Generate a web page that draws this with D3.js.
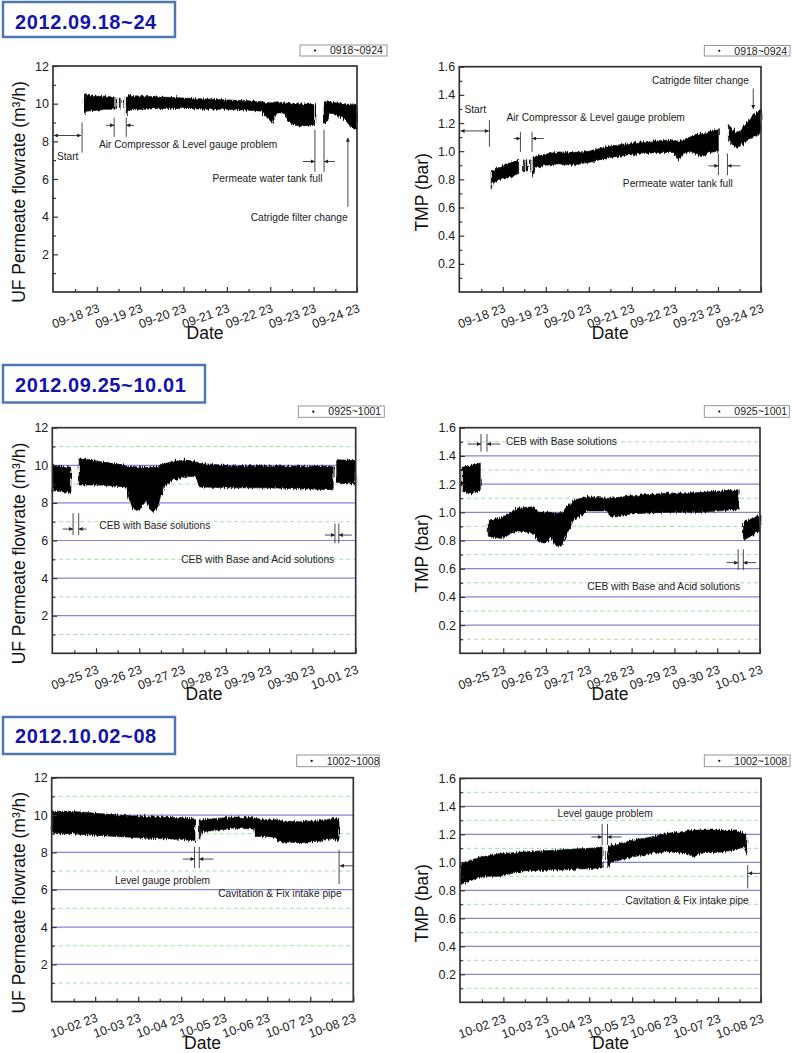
<!DOCTYPE html>
<html><head><meta charset="utf-8">
<script src="https://cdn.jsdelivr.net/npm/d3@7"></script>
<style>body{margin:0;background:#fff}svg{display:block}text{font-family:"Liberation Sans",Arial,sans-serif}</style>
</head><body>
<svg id="c" width="792" height="1053"></svg>
<script>
// ---------------- DATA ----------------
const periodTitles = ["2012.09.18~24", "2012.09.25~10.01", "2012.10.02~08"];
const legendLabels = ["0918~0924", "0925~1001", "1002~1008"];
const dateTicks1 = ["09-18 23","09-19 23","09-20 23","09-21 23","09-22 23","09-23 23","09-24 23"];
const dateTicks2 = ["09-25 23","09-26 23","09-27 23","09-28 23","09-29 23","09-30 23","10-01 23"];
const dateTicks3 = ["10-02 23","10-03 23","10-04 23","10-05 23","10-06 23","10-07 23","10-08 23"];
const flowMajor = [2,4,6,8,10,12];
const flowMinor = [1,3,5,7,9,11];
const tmpMajor = [0.2,0.4,0.6,0.8,1.0,1.2,1.4,1.6];
const tmpMinor = [0.1,0.3,0.5,0.7,0.9,1.1,1.3,1.5];

// Each series = list of continuous segments; point = [days after first "23" tick, low, high]
const flow0918 = [
  [[-0.29,9.4,10.6],[-0.25,9.6,10.45],[0.0,9.65,10.4],[0.2,9.7,10.4],[0.40,9.7,10.35]],
  [[0.44,9.75,10.3],[0.46,9.75,10.3]],
  [[0.52,9.75,10.3],[0.54,9.75,10.3]],
  [[0.60,9.75,10.3],[0.62,9.75,10.3]],
  [[0.68,9.3,10.4],[0.72,9.65,10.45],[1.0,9.7,10.4],[1.5,9.75,10.35],[2.0,9.75,10.3],[2.5,9.7,10.25],[3.0,9.7,10.2],[3.5,9.65,10.15],[3.8,9.6,10.1],[3.95,9.2,10.05],[4.05,9.0,10.05],[4.15,9.5,10.1],[4.3,9.5,10.05],[4.5,8.9,10.0],[4.7,8.8,10.0],[5.03,8.9,9.95]],
  [[5.24,9.0,10.15],[5.28,8.9,10.1],[5.35,9.5,10.1],[5.5,9.4,10.05],[5.7,9.2,10.0],[5.85,8.8,9.95],[6.0,8.6,9.9]]
];
const tmp0918 = [
  [[-0.27,0.73,0.855],[-0.24,0.78,0.86],[0.0,0.80,0.90],[0.2,0.82,0.92],[0.37,0.84,0.935]],
  [[0.48,0.86,0.94],[0.50,0.86,0.94]],
  [[0.54,0.86,0.94],[0.56,0.86,0.94]],
  [[0.62,0.86,0.94],[0.64,0.86,0.94]],
  [[0.68,0.82,0.96],[0.72,0.88,0.96],[1.0,0.90,0.98],[1.3,0.91,0.995],[1.6,0.90,0.99],[2.0,0.92,1.0],[2.4,0.95,1.03],[2.8,0.97,1.05],[3.2,0.98,1.065],[3.6,0.99,1.075],[3.95,0.99,1.08],[4.08,0.935,1.07],[4.18,0.98,1.08],[4.35,1.0,1.1],[4.5,0.98,1.12],[4.6,0.96,1.12],[4.8,0.99,1.14],[5.01,1.0,1.16]],
  [[5.24,1.10,1.19],[5.3,1.05,1.17],[5.45,1.02,1.12],[5.6,1.06,1.18],[5.8,1.10,1.25],[6.0,1.13,1.30]]
];
const flow0925 = [
  [[-1.0,8.65,10.0],[-0.8,8.6,9.95],[-0.58,8.55,9.9]],
  [[-0.39,8.95,10.4],[0.08,8.95,10.2],[0.69,8.85,10.0],[0.77,8.2,9.95],[0.85,7.7,9.95],[1.0,7.6,9.9],[1.16,8.15,9.9],[1.23,7.8,9.9],[1.31,7.5,9.9],[1.43,7.8,9.95],[1.54,8.8,10.05],[1.77,9.2,10.2],[2.08,9.4,10.28],[2.32,9.4,10.2],[2.39,8.85,10.1],[3.16,8.8,9.97],[3.94,8.8,9.97],[4.71,8.75,9.95],[5.48,8.7,9.95]],
  [[5.56,9.05,10.3],[6.0,9.0,10.25]]
];
const tmp0925 = [
  [[-0.96,1.15,1.32],[-0.75,1.13,1.33],[-0.535,1.16,1.35]],
  [[-0.35,0.83,0.945],[-0.05,0.815,0.96],[0.34,0.87,1.03],[0.72,0.85,1.04],[0.83,0.79,1.0],[0.99,0.78,1.0],[1.11,0.83,1.0],[1.23,0.76,0.99],[1.39,0.77,1.0],[1.48,0.85,1.04],[1.65,0.945,1.087],[1.97,1.01,1.11],[2.43,1.01,1.10],[2.51,0.97,1.10],[3.05,0.99,1.12],[3.83,1.0,1.135],[4.6,1.0,1.14],[5.49,1.02,1.16]],
  [[5.61,0.80,0.93],[6.0,0.87,0.98]]
];
const flow1002 = [
  [[-1.0,9.0,10.2],[-0.6,9.0,10.2],[-0.25,8.95,10.15],[0.5,8.85,10.0],[1.27,8.75,9.91],[2.0,8.7,9.85],[2.32,8.6,9.8]],
  [[2.42,8.6,9.75],[2.47,9.1,9.75],[2.83,9.2,9.82],[3.21,9.3,9.9],[3.68,9.25,9.85],[3.72,8.85,9.82],[4.0,8.85,9.75],[4.2,8.8,9.75],[4.26,8.57,9.7],[4.76,8.52,9.64],[5.2,8.6,9.7],[5.53,8.75,9.82],[5.67,8.6,9.8]]
];
const tmp1002 = [
  [[-1.0,0.84,0.99],[-0.5,0.90,1.04],[-0.1,0.90,1.06],[0.5,0.94,1.076],[1.3,0.945,1.088],[2.0,0.955,1.10],[2.3,0.96,1.11]],
  [[2.43,0.96,1.10],[2.5,1.0,1.12],[3.04,1.04,1.16],[3.43,1.064,1.18],[3.82,1.076,1.207],[4.2,1.064,1.22],[4.45,1.04,1.23],[4.6,1.07,1.23],[5.0,1.07,1.23],[5.38,1.088,1.23],[5.6,1.11,1.21],[5.67,1.05,1.19]]
];

// ---------------- LAYOUT ----------------
const FLOW_LABEL = "UF Permeate flowrate (m\u00B3/h)";
const TMP_LABEL = "TMP (bar)";
const titleBoxes = [
  {x:3, y:2, w:172, h:35, tx:15, ty:28.5},
  {x:3, y:365, w:202, h:37.5, tx:15, ty:392},
  {x:3, y:717, w:172, h:37, tx:15, ty:743}
];
const panels = [
  {L:53, R:357, T:66, B:292, kind:"flow", data:flow0918, ticks:dateTicks1, grid:false, leg:{x:300,y:45,w:87,h:11,label:legendLabels[0]},
   texts:[["Start",-0.92,7.02],["Air Compressor & Level gauge problem",0.05,7.66],["Permeate water tank full",2.67,5.85],["Catrigde filter change",3.55,3.78]],
   vlines:[[-0.34,9.0,7.4],[0.40,9.26,8.24],[0.68,9.26,8.24],[5.03,8.62,6.38],[5.24,8.62,6.38]],
   arrows:[[-0.99,8.31,-0.36,8.31,1],[0.215,8.85,0.40,8.85],[0.86,8.85,0.68,8.85],[4.75,6.93,5.03,6.93],[5.49,6.93,5.24,6.93],[5.79,4.52,5.79,8.19]]},
  {L:459.3, R:761, T:66.7, B:292, kind:"tmp", data:tmp0918, ticks:dateTicks1, grid:false, leg:{x:704.3,y:45.5,w:85.7,h:10.5,label:legendLabels[0]},
   texts:[["Start",-0.89,1.27],["Air Compressor & Level gauge problem",0.086,1.213],["Catrigde filter change",3.47,1.475],["Permeate water tank full",2.79,0.745]],
   vlines:[[-0.31,1.22,1.03],[0.41,1.137,0.995],[0.68,1.137,0.995],[5.01,0.984,0.83],[5.22,0.984,0.83]],
   arrows:[[-0.98,1.144,-0.325,1.144,1],[0.255,1.09,0.41,1.09],[0.95,1.09,0.68,1.09],[5.82,1.445,5.82,1.30],[4.78,0.896,5.01,0.896],[5.52,0.896,5.22,0.896]]},
  {L:52.3, R:355.7, T:427.7, B:653.3, kind:"flow", data:flow0925, ticks:dateTicks2, grid:true, leg:{x:298.3,y:406,w:86,h:11.3,label:legendLabels[1]},
   texts:[["CEB with Base solutions",0.076,6.61],["CEB with Base and Acid solutions",1.97,4.80]],
   vlines:[[-0.53,7.45,6.29],[-0.40,7.45,6.29],[5.52,6.91,5.85],[5.61,6.91,5.85]],
   arrows:[[-0.77,6.61,-0.53,6.61],[-0.22,6.61,-0.40,6.61],[5.29,6.29,5.52,6.29],[5.91,6.29,5.61,6.29]]},
  {L:460, R:760, T:427.7, B:653.3, kind:"tmp", data:tmp0925, ticks:dateTicks2, grid:true, leg:{x:704.3,y:405.7,w:85,h:11.6,label:legendLabels[1]},
   texts:[["CEB with Base solutions",0.063,1.48],["CEB with Base and Acid solutions",1.965,0.449]],
   vlines:[[-0.52,1.555,1.43],[-0.38,1.555,1.43],[5.49,0.738,0.591],[5.61,0.738,0.591]],
   arrows:[[-0.83,1.484,-0.52,1.484],[-0.07,1.484,-0.38,1.484],[5.22,0.643,5.49,0.643],[5.91,0.643,5.61,0.643]]},
  {L:51.7, R:353.3, T:777.7, B:1001.7, kind:"flow", data:flow1002, ticks:dateTicks3, grid:true, leg:{x:296.7,y:755,w:82.6,h:11.7,label:legendLabels[2]},
   texts:[["Level gauge problem",0.46,6.28],["Cavitation & Fix intake pipe",2.86,5.61]],
   vlines:[[2.31,8.30,7.15],[2.42,8.30,7.15],[5.67,8.13,6.30]],
   arrows:[[2.04,7.64,2.31,7.64],[2.75,7.64,2.42,7.64],[5.99,7.28,5.69,7.28]]},
  {L:460, R:761, T:778.3, B:1002.3, kind:"tmp", data:tmp1002, ticks:dateTicks3, grid:true, leg:{x:704.3,y:755,w:85.7,h:11.7,label:legendLabels[2]},
   texts:[["Level gauge problem",1.26,1.324],["Cavitation & Fix intake pipe",2.84,0.699]],
   vlines:[[2.30,1.274,1.124],[2.425,1.274,1.124],[5.69,0.98,0.814]],
   arrows:[[2.05,1.181,2.30,1.181],[2.75,1.181,2.425,1.181],[5.98,0.921,5.70,0.921]]}
];

// ---------------- DRAW ----------------
const svg = d3.select("#c");
const defs = svg.append("defs");
defs.append("marker").attr("id","ah").attr("viewBox","0 0 10 10").attr("refX",10).attr("refY",5)
  .attr("markerWidth",5).attr("markerHeight",4).attr("markerUnits","userSpaceOnUse").attr("orient","auto-start-reverse")
  .append("path").attr("d","M0,0L10,5L0,10Z").attr("fill","#222");
// ragged-edge rendering style for the dense scatter bands
const flt = defs.append("filter").attr("id","rough").attr("x","-2%").attr("y","-20%").attr("width","104%").attr("height","140%");
flt.append("feTurbulence").attr("type","fractalNoise").attr("baseFrequency","0.9 0.08").attr("numOctaves",2).attr("seed",3).attr("result","n");
flt.append("feDisplacementMap").attr("in","SourceGraphic").attr("in2","n").attr("scale",5).attr("xChannelSelector","R").attr("yChannelSelector","G");

// title boxes
titleBoxes.forEach((b,i)=>{
  svg.append("rect").attr("x",b.x).attr("y",b.y).attr("width",b.w).attr("height",b.h)
    .attr("fill","#fff").attr("stroke","#4f78b0").attr("stroke-width",2.5);
  svg.append("text").attr("x",b.tx).attr("y",b.ty).text(periodTitles[i])
    .attr("font-size",20).attr("font-weight","bold").attr("fill","#1414a8").attr("letter-spacing",0.6);
});

const DOMAIN_X = [-1.01, 6];
panels.forEach(p=>{
  const g = svg.append("g");
  const x = d3.scaleLinear().domain(DOMAIN_X).range([p.L, p.R]);
  const isFlow = p.kind === "flow";
  const y = d3.scaleLinear().domain(isFlow ? [0,12] : [0,1.6]).range([p.B, p.T]);
  const major = isFlow ? flowMajor : tmpMajor;
  const minor = isFlow ? flowMinor : tmpMinor;

  // gridlines
  if (p.grid) {
    g.append("g").selectAll("line").data(minor).join("line")
      .attr("x1",p.L).attr("x2",p.R).attr("y1",d=>y(d)).attr("y2",d=>y(d))
      .attr("stroke","#a9dca9").attr("stroke-width",1).attr("stroke-dasharray","4,3");
    g.append("g").selectAll("line").data(major.filter(v=>y(v) > p.T+1)).join("line")
      .attr("x1",p.L).attr("x2",p.R).attr("y1",d=>y(d)).attr("y2",d=>y(d))
      .attr("stroke","#8585d6").attr("stroke-width",1.2);
  }

  // data bands
  const area = d3.area().x(d=>x(d[0])).y0(d=>y(d[1])).y1(d=>y(d[2]));
  g.append("g").attr("filter","url(#rough)").selectAll("path").data(p.data).join("path")
    .attr("d",area).attr("fill","#000").attr("stroke","#000").attr("stroke-width",0.6).attr("stroke-linejoin","round");

  // frame
  g.append("rect").attr("x",p.L).attr("y",p.T).attr("width",p.R-p.L).attr("height",p.B-p.T)
    .attr("fill","none").attr("stroke","#333").attr("stroke-width",1.7);

  // bottom axis (major + minor ticks inside)
  const xMajorVals = d3.range(p.ticks.length);
  const xa = g.append("g").attr("transform",`translate(0,${p.B})`)
    .call(d3.axisBottom(x).tickValues(xMajorVals).tickSize(-5).tickFormat(i=>p.ticks[i]));
  xa.select(".domain").remove();
  xa.selectAll(".tick line").attr("stroke","#333").attr("stroke-width",1.2);
  xa.selectAll(".tick text").attr("y",0).attr("dy",0).attr("text-anchor","end")
    .attr("transform","translate(3,19.5) rotate(-20)").attr("font-size",12.5).attr("fill","#222")
    .style("font-family",'"Liberation Sans",Arial,sans-serif');
  const xm = g.append("g").attr("transform",`translate(0,${p.B})`)
    .call(d3.axisBottom(x).tickValues(xMajorVals.map(v=>v-0.5)).tickSize(-3).tickFormat(""));
  xm.select(".domain").remove();
  xm.selectAll(".tick line").attr("stroke","#333").attr("stroke-width",1.2);

  // left axis
  const ya = g.append("g").attr("transform",`translate(${p.L},0)`)
    .call(d3.axisLeft(y).tickValues(major).tickSize(-5).tickPadding(4).tickFormat(isFlow ? d3.format("d") : d3.format(".1f")));
  ya.select(".domain").remove();
  ya.selectAll(".tick line").attr("stroke","#333").attr("stroke-width",1.2);
  ya.selectAll(".tick text").attr("font-size",12.5).attr("fill","#222")
    .style("font-family",'"Liberation Sans",Arial,sans-serif');
  const ym = g.append("g").attr("transform",`translate(${p.L},0)`)
    .call(d3.axisLeft(y).tickValues(minor).tickSize(-3).tickFormat(""));
  ym.select(".domain").remove();
  ym.selectAll(".tick line").attr("stroke","#333").attr("stroke-width",1.2);

  // axis titles
  const cy = (p.T + p.B)/2 + 13;
  const lx = isFlow ? 25 : 428;
  g.append("text").attr("transform",`translate(${lx},${cy}) rotate(-90)`).attr("text-anchor","middle")
    .attr("font-size",17.5).attr("fill","#111").text(isFlow ? FLOW_LABEL : TMP_LABEL);
  g.append("text").attr("x",(p.L+p.R)/2).attr("y",p.B+47).attr("text-anchor","middle")
    .attr("font-size",17.5).attr("fill","#111").text("Date");

  // legend
  const lg = g.append("g");
  lg.append("rect").attr("x",p.leg.x).attr("y",p.leg.y).attr("width",p.leg.w).attr("height",p.leg.h)
    .attr("fill","#fff").attr("stroke","#8a8a8a").attr("stroke-width",0.9);
  lg.append("circle").attr("cx",p.leg.x+15).attr("cy",p.leg.y+p.leg.h/2).attr("r",1.1).attr("fill","#000");
  lg.append("text").attr("x",p.leg.x+30).attr("y",p.leg.y+p.leg.h/2+3.8).attr("font-size",10.5).attr("fill","#222").text(p.leg.label);

  // annotations
  p.vlines.forEach(v=>{
    g.append("line").attr("x1",x(v[0])).attr("x2",x(v[0])).attr("y1",y(v[1])).attr("y2",y(v[2]))
      .attr("stroke","#333").attr("stroke-width",0.9);
  });
  p.arrows.forEach(a=>{
    const l = g.append("line").attr("x1",x(a[0])).attr("y1",y(a[1])).attr("x2",x(a[2])).attr("y2",y(a[3]))
      .attr("stroke","#333").attr("stroke-width",0.9).attr("marker-end","url(#ah)");
    if (a[4]) l.attr("marker-start","url(#ah)");
  });
  p.texts.forEach(t=>{
    g.append("text").attr("x",x(t[1])).attr("y",y(t[2])).attr("font-size",10.2).attr("fill","#222").text(t[0]);
  });
});
</script>
</body></html>
